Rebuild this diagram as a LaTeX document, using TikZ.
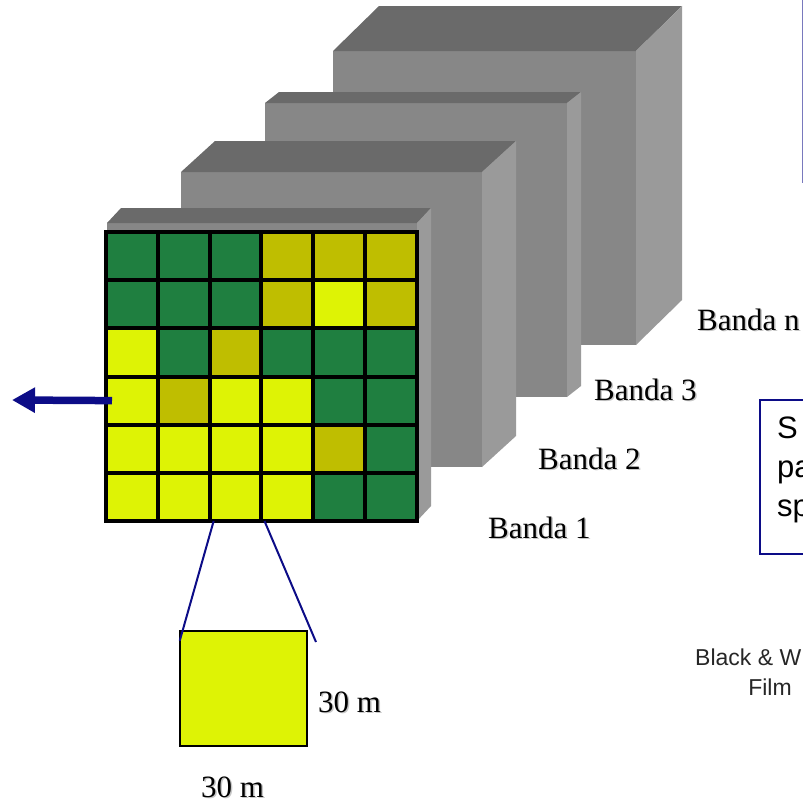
\documentclass[tikz,border=0pt]{standalone}
\usepackage{fontspec}
\setmainfont{Liberation Serif}
\newfontfamily\arialfont{Liberation Sans}
\usetikzlibrary{arrows.meta}

\definecolor{topgray}{RGB}{106,106,106}
\definecolor{frontgray}{RGB}{135,135,135}
\definecolor{sidegray}{RGB}{154,154,154}
\definecolor{cellG}{RGB}{31,127,64}
\definecolor{cellO}{RGB}{191,190,0}
\definecolor{cellY}{RGB}{222,243,5}
\definecolor{navy}{RGB}{12,12,135}

% one band slab: front x1 x2, front y1 y2, depth dx dy
\newcommand\bandslab[6]{%
  \fill[frontgray] (#1,#3) rectangle (#2,#4);
  \fill[topgray] (#1,#3) -- (#1+#5,#3-#6) -- (#2+#5,#3-#6) -- (#2,#3) -- cycle;
  \fill[sidegray] (#2,#3) -- (#2+#5,#3-#6) -- (#2+#5,#4-#6) -- (#2,#4) -- cycle;
}
% serif label with a soft drop shadow
\newcommand\shadowtext[1]{\leavevmode\rlap{\raisebox{-1.5pt}{\hspace{1.5pt}\textcolor{black!22}{#1}}}#1}

\tikzset{
  cell/.style={rectangle, draw=black, line width=4pt, inner sep=0pt, outer sep=0pt,
    minimum width=51.83pt, minimum height=48.17pt},
  lbl/.style={inner sep=0pt, font=\fontsize{31}{36}\selectfont},
  sanslbl/.style={inner sep=0pt, font=\arialfont\fontsize{31}{36}\selectfont},
  zoomline/.style={navy, line width=2pt},
}

\begin{document}
\begin{tikzpicture}[x=1pt, y=-1pt]
\useasboundingbox (0,0) rectangle (803,804);
\clip (0,0) rectangle (803,804);

% band slabs, back to front
\bandslab{333}{636}{51}{345}{46}{45}
\bandslab{265}{567}{103}{397}{14}{11}
\bandslab{181}{482}{172}{467}{34}{31}
\bandslab{107}{417}{223}{521}{14}{15}

% pixel grid of band 1
\foreach \row [count=\i] in {{G,G,G,O,O,O},{G,G,G,O,Y,O},{Y,G,O,G,G,G},{Y,O,Y,Y,G,G},{Y,Y,Y,Y,O,G},{Y,Y,Y,Y,G,G}} {
  \foreach \c [count=\j] in \row {
    \node[cell, fill=cell\c] (c\i\j) at ({106+51.83*(\j-0.5)},{232+48.17*(\i-0.5)}) {};
  }
}

% arrow leaving the grid
\coordinate (tip) at (12,400);
\draw[navy, line width=7.5pt, -{Triangle[length=23pt,width=24pt]}] ([xshift=6pt]c41.west) -- (tip);

% enlarged pixel
\node[rectangle, draw=black, line width=2.5pt, fill=cellY, inner sep=0pt,
      minimum width=127pt, minimum height=115pt] (pix) at (243.5,688.5) {};
\coordinate (rEnd) at (316,642);
\draw[zoomline] ([xshift=4pt]c63.south west) -- ([xshift=1pt,yshift=-11pt]pix.north west);
\draw[zoomline] ([xshift=3pt]c63.south east) -- (rEnd);

\node[lbl, anchor=base west] (side) at (318,712) {\shadowtext{30 m}};
\node[lbl, anchor=base] (bottom) at (232.5,797) {\shadowtext{30 m}};

% band labels
\node[lbl, anchor=base west] (bn) at (697,330) {\shadowtext{Banda n}};
\node[lbl, anchor=base west] (b3) at (594,400) {\shadowtext{Banda 3}};
\node[lbl, anchor=base west] (b2) at (538,469) {\shadowtext{Banda 2}};
\node[lbl, anchor=base west] (b1) at (488,538) {\shadowtext{Banda 1}};

% text boxes on the right
\node[rectangle, draw=navy!55, line width=2pt, anchor=south west, inner sep=0pt,
      minimum width=100pt, minimum height=200pt] (tbox) at (802,183) {};
\node[rectangle, draw=navy, line width=2pt, anchor=north west, inner sep=0pt,
      minimum width=100pt, minimum height=154pt] (sbox) at (759,399) {};
\node[sanslbl, anchor=base west] (s1) at (777,438) {S};
\node[sanslbl, anchor=base west] (s2) at (777,477) {pa};
\node[sanslbl, anchor=base west] (s3) at (777,516) {sp};

\node[inner sep=0pt, anchor=base west, text=black!85, font=\arialfont\fontsize{23}{27}\selectfont] (bw) at (695,665) {Black \& W};
\node[inner sep=0pt, anchor=base, text=black!85, font=\arialfont\fontsize{23}{27}\selectfont] (film) at (770,695) {Film};
\end{tikzpicture}
\end{document}
